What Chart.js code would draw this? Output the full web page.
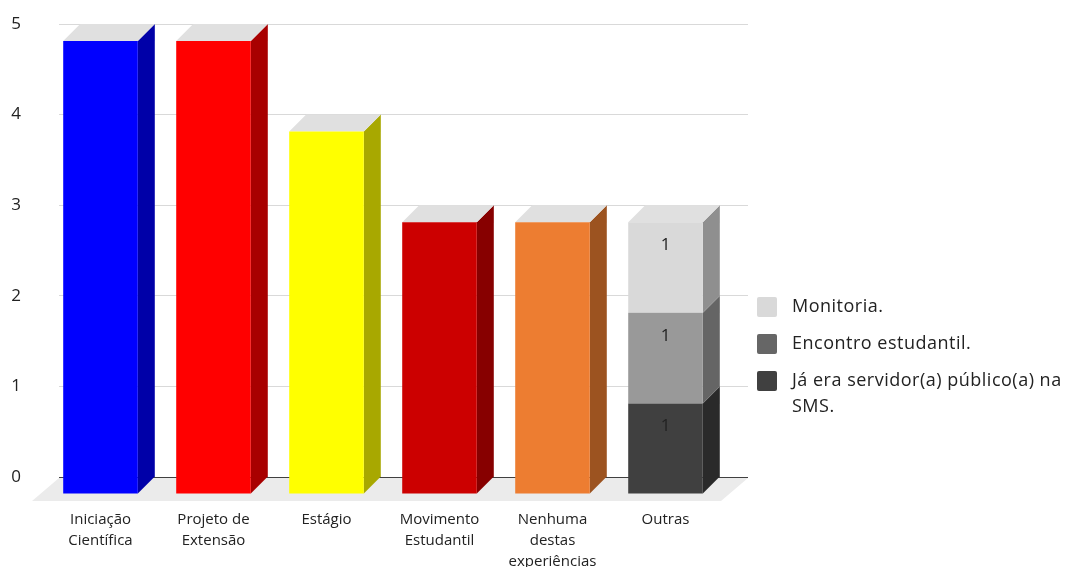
<!DOCTYPE html>
<html>
<head>
<meta charset="utf-8">
<script src="https://cdn.jsdelivr.net/npm/chart.js@4/dist/chart.umd.min.js"></script>
<style>
  html, body { margin: 0; padding: 0; background: #fff; }
  #wrap { width: 1065px; height: 567px; }
</style>
</head>
<body>
<div id="wrap"><canvas id="chart"></canvas></div>
<script>
const categories = [
    ['Iniciação', 'Científica'],
    ['Projeto de', 'Extensão'],
    'Estágio',
    ['Movimento', 'Estudantil'],
    ['Nenhuma', 'destas', 'experiências'],
    'Outras'
];
const experiencias = [5, 5, 4, 3, 3, null];
const outrasServidor = [null, null, null, null, null, 1];
const outrasEncontro = [null, null, null, null, null, 1];
const outrasMonitoria = [null, null, null, null, null, 1];
const yTicks = [0, 1, 2, 3, 4, 5];

const barColors = ['#0000ff', '#ff0000', '#ffff00', '#cc0000', '#ed7d31', '#000000'];
const FONT = '"Open Sans", "Noto Sans", sans-serif';
const DEPTH = 17;
// the back wall runs a little past the category band on both sides
const WALL_LEFT = 2, WALL_RIGHT = 9;

function darken(hex, f) {
    const n = parseInt(hex.slice(1), 16);
    const c = [(n >> 16) & 255, (n >> 8) & 255, n & 255].map(v => Math.round(v * f));
    return 'rgb(' + c.join(',') + ')';
}

function gridColor(v) {
    return v === 0 ? '#404040' : '#d9d9d9';
}

// wall extension, floor, side and top faces; front faces are the library's bars shifted forward
const threeD = {
    id: 'threeD',
    beforeDatasetsDraw(chart) {
        const { ctx, chartArea: a, scales } = chart;
        const left = a.left - WALL_LEFT, right = a.right + WALL_RIGHT;
        ctx.save();
        ctx.lineWidth = 1;
        yTicks.forEach(v => {
            // same pixel snapping as the library's grid lines
            const py = Math.round(scales.y.getPixelForValue(v) - 0.5) + 0.5;
            ctx.strokeStyle = gridColor(v);
            ctx.beginPath();
            ctx.moveTo(left, py); ctx.lineTo(a.left, py);
            ctx.moveTo(a.right, py); ctx.lineTo(right, py);
            ctx.stroke();
        });

        ctx.fillStyle = '#ebebeb';
        ctx.beginPath();
        ctx.moveTo(left, a.bottom + 1);
        ctx.lineTo(right, a.bottom + 1);
        ctx.lineTo(right - 27, a.bottom + 24);
        ctx.lineTo(left - 27, a.bottom + 24);
        ctx.closePath();
        ctx.fill();

        const datasets = chart.data.datasets;
        const n = chart.data.labels.length;
        for (let j = 0; j < n; j++) {
            let topIdx = -1;
            datasets.forEach((ds, i) => { if (ds.data[j] != null) topIdx = i; });
            datasets.forEach((ds, i) => {
                if (ds.data[j] == null) return;
                const bar = chart.getDatasetMeta(i).data[j];
                const { x, y, base, width } = bar.getProps(['x', 'y', 'base', 'width'], true);
                const l = x - width / 2, r = x + width / 2;
                const front = Array.isArray(ds.backgroundColor) ? ds.backgroundColor[j] : ds.backgroundColor;
                ctx.fillStyle = darken(front, 0.66);
                ctx.beginPath();
                ctx.moveTo(r - DEPTH, y + DEPTH);
                ctx.lineTo(r, y);
                ctx.lineTo(r, base);
                ctx.lineTo(r - DEPTH, base + DEPTH);
                ctx.closePath();
                ctx.fill();
                if (i === topIdx) {
                    ctx.fillStyle = '#e0e0e0';
                    ctx.beginPath();
                    ctx.moveTo(l - DEPTH, y + DEPTH);
                    ctx.lineTo(l, y);
                    ctx.lineTo(r, y);
                    ctx.lineTo(r - DEPTH, y + DEPTH);
                    ctx.closePath();
                    ctx.fill();
                }
            });
        }
        ctx.restore();
        ctx.save();
        ctx.translate(-DEPTH, DEPTH);
    },
    afterDatasetsDraw(chart) {
        const { ctx } = chart;
        ctx.restore();
        // value labels on the stacked segments
        ctx.save();
        ctx.font = '17px ' + FONT;
        ctx.fillStyle = '#222';
        ctx.textAlign = 'center';
        ctx.textBaseline = 'middle';
        chart.data.datasets.forEach((ds, i) => {
            if (!ds.showValue) return;
            chart.getDatasetMeta(i).data.forEach((bar, j) => {
                if (ds.data[j] == null) return;
                const { x, y } = bar.getProps(['x', 'y'], true);
                ctx.fillText(String(ds.data[j]), x - DEPTH, y + DEPTH + 23);
            });
        });
        ctx.restore();
    }
};

const sideLegend = {
    id: 'sideLegend',
    afterDraw(chart) {
        const { ctx } = chart;
        const items = chart.data.datasets.filter(ds => ds.legendColor).reverse();
        const boxX = 757, textX = 792, maxW = 1065 - textX - 2;
        let cy = 307;
        ctx.save();
        ctx.font = '18px ' + FONT;
        ctx.letterSpacing = '0.5px';
        ctx.textBaseline = 'middle';
        items.forEach(ds => {
            ctx.fillStyle = ds.legendColor;
            ctx.beginPath();
            ctx.roundRect(boxX, cy - 10, 20, 20, 2);
            ctx.fill();
            const words = ds.label.split(' ');
            const lines = [];
            let line = '';
            words.forEach(w => {
                const t = line ? line + ' ' + w : w;
                if (ctx.measureText(t).width > maxW && line) { lines.push(line); line = w; }
                else line = t;
            });
            lines.push(line);
            ctx.fillStyle = '#222';
            lines.forEach((ln, k) => ctx.fillText(ln, textX, cy + k * 26));
            cy += 37;
        });
        ctx.restore();
    }
};

new Chart(document.getElementById('chart'), {
    type: 'bar',
    data: {
        labels: categories,
        datasets: [
            { label: 'Experiências', data: experiencias, backgroundColor: barColors, clip: false },
            { label: 'Já era servidor(a) público(a) na SMS.', data: outrasServidor, backgroundColor: '#404040', legendColor: '#404040', showValue: true, clip: false },
            { label: 'Encontro estudantil.', data: outrasEncontro, backgroundColor: '#999999', legendColor: '#666666', showValue: true, clip: false },
            { label: 'Monitoria.', data: outrasMonitoria, backgroundColor: '#d9d9d9', legendColor: '#d9d9d9', showValue: true, clip: false }
        ]
    },
    options: {
        responsive: true,
        maintainAspectRatio: false,
        animation: false,
        barPercentage: 0.66,
        categoryPercentage: 1,
        layout: { padding: { left: 0, top: 0, right: 326, bottom: 0 } },
        plugins: {
            legend: { display: false },
            tooltip: { enabled: false }
        },
        scales: {
            x: {
                stacked: true,
                grid: { display: false, drawTicks: false },
                border: { display: false },
                afterFit: s => { s.height = 90; },
                ticks: {
                    color: '#222',
                    font: { family: FONT, size: 15, lineHeight: 1.4 },
                    labelOffset: -DEPTH,
                    padding: 32,
                    maxRotation: 0,
                    autoSkip: false
                }
            },
            y: {
                stacked: true,
                min: 0,
                max: 5,
                afterFit: s => { s.width = 61; s.paddingTop = 24; s.paddingBottom = 0; },
                afterBuildTicks: s => { s.ticks = yTicks.map(v => ({ value: v })); },
                grid: {
                    drawTicks: false,
                    color: c => gridColor(c.tick.value)
                },
                border: { display: false },
                ticks: {
                    color: '#222',
                    font: { family: FONT, size: 17 },
                    padding: 40
                }
            }
        }
    },
    plugins: [threeD, sideLegend]
});
</script>
</body>
</html>
